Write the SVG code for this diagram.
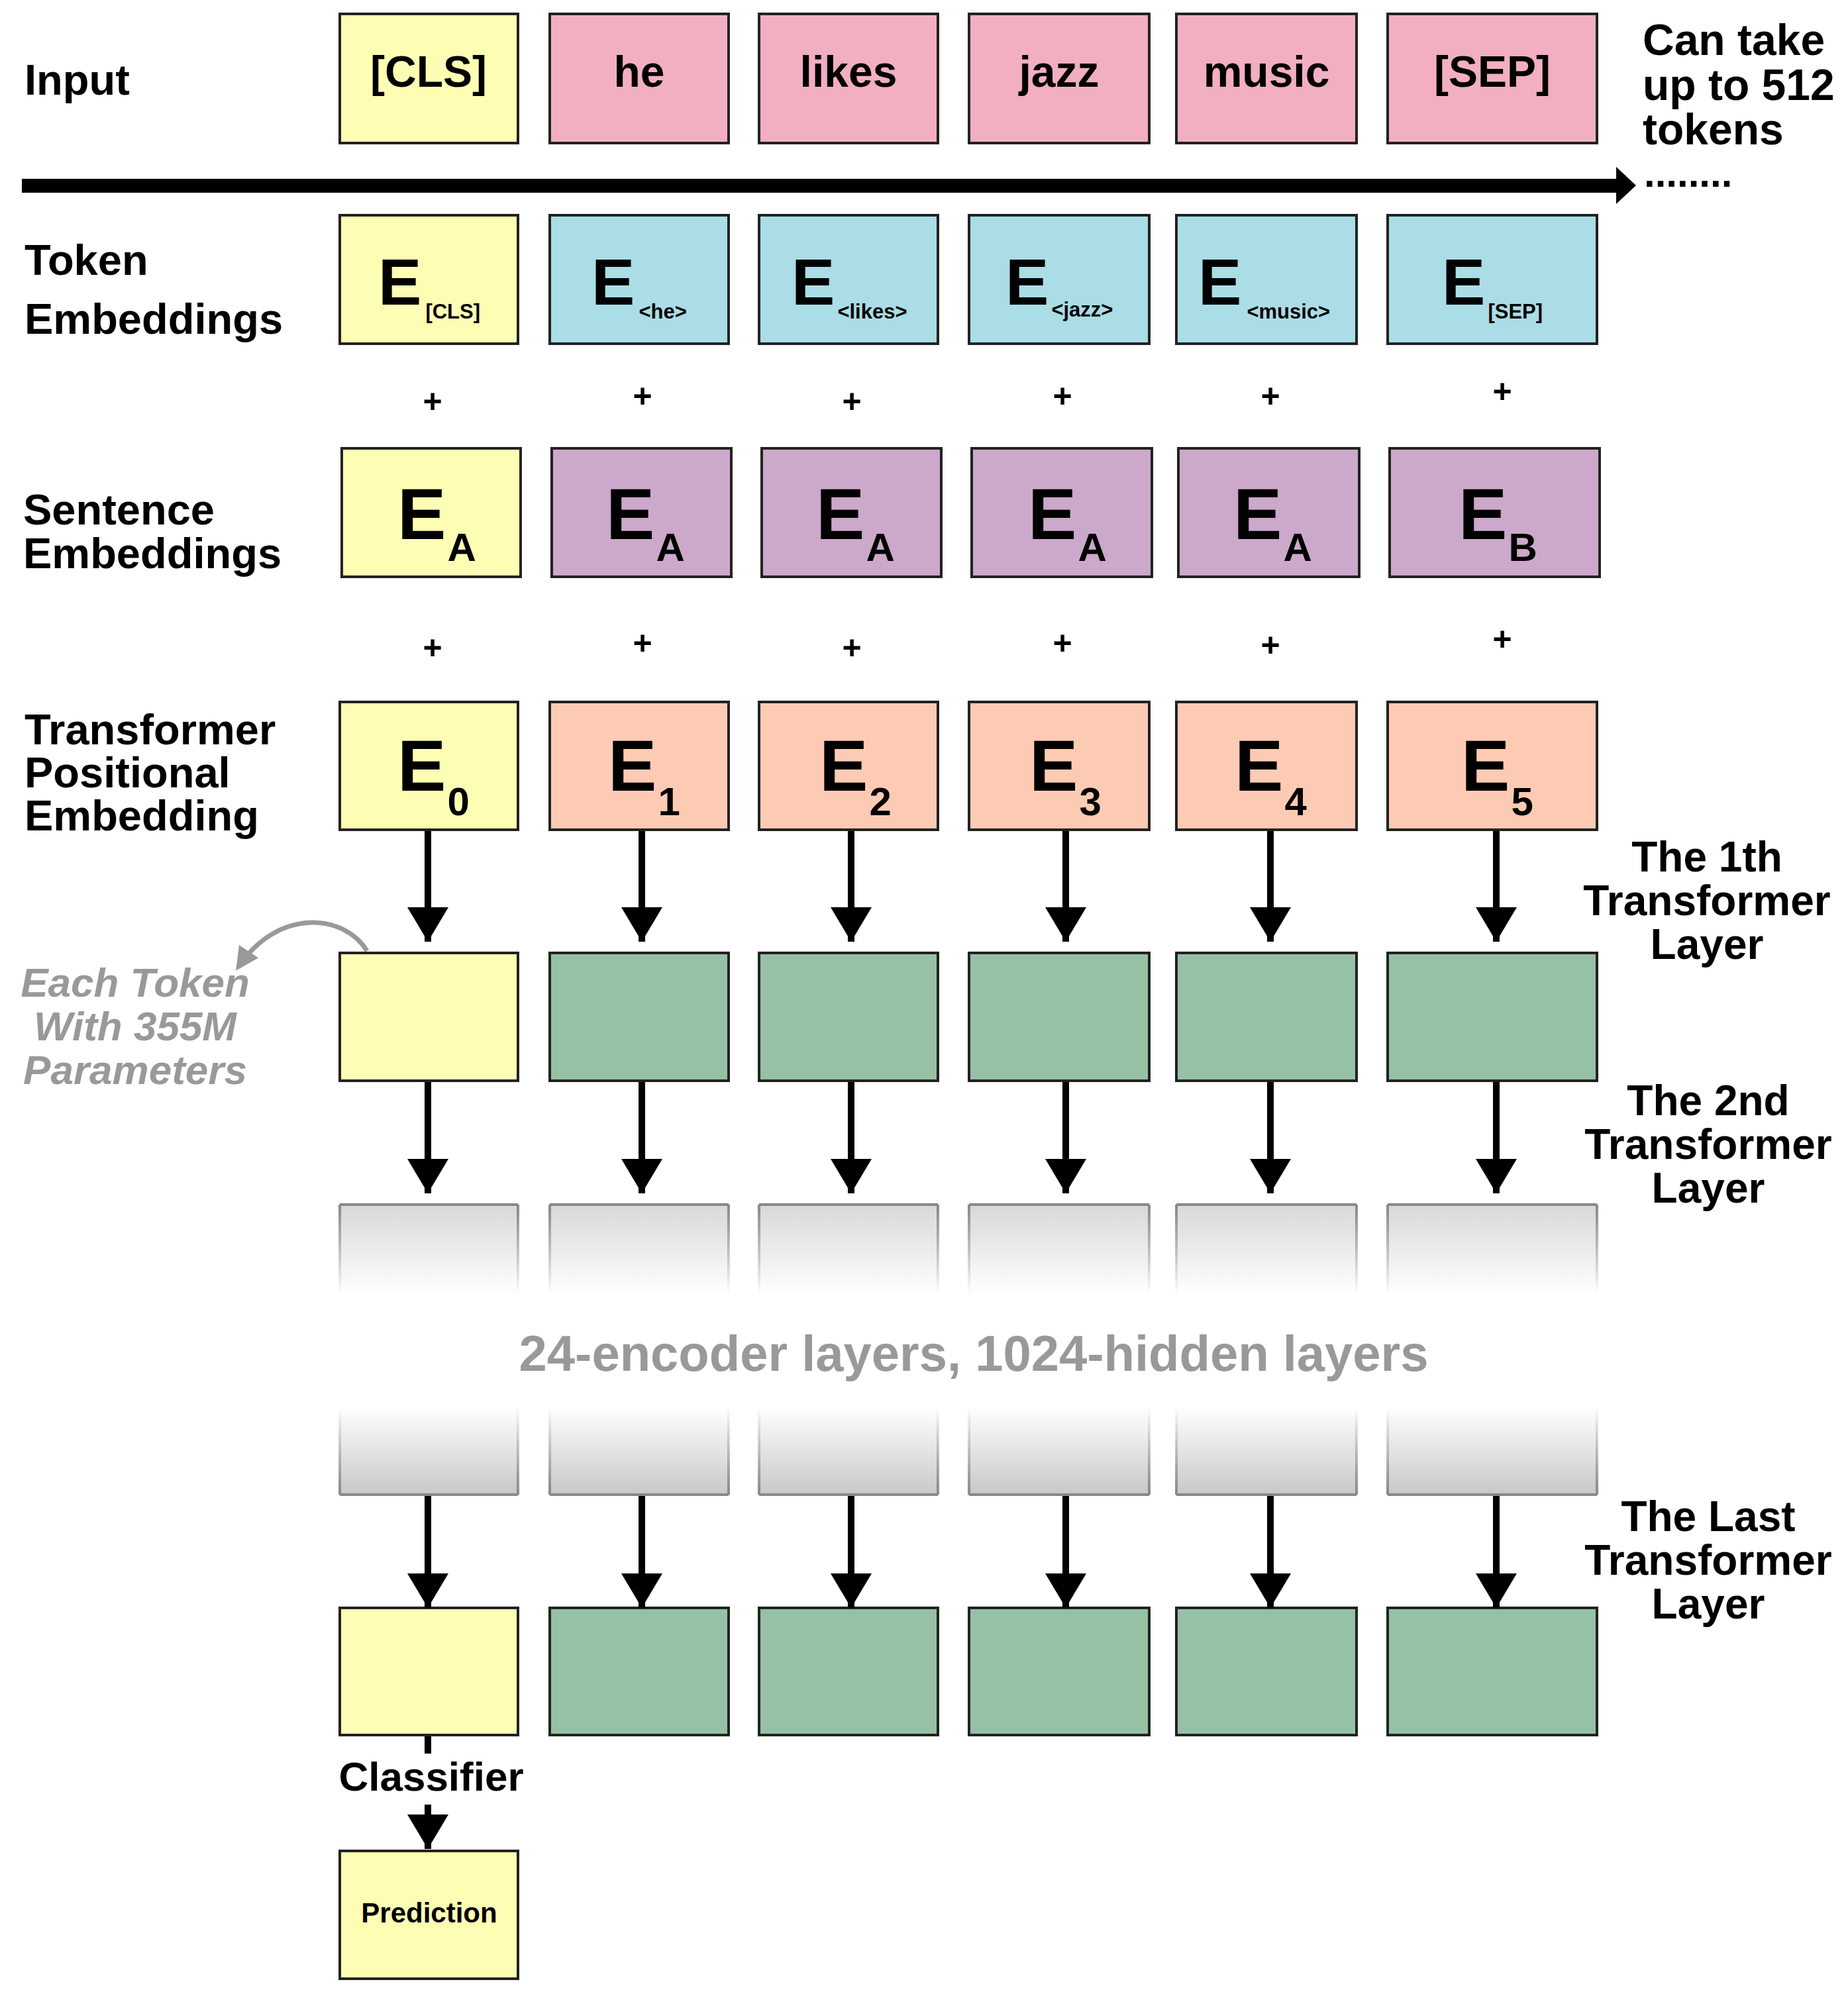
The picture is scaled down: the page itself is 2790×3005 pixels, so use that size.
<svg xmlns="http://www.w3.org/2000/svg" width="2790" height="3005" viewBox="0 0 2790 3005">
<style>
text{font-family:"Liberation Sans",Arial,sans-serif;font-weight:bold;fill:#000}
.b{stroke:#222;stroke-width:4}
.y{fill:#FDFDB4}.p{fill:#F2AFC1}.c{fill:#AADDE6}.v{fill:#CCA8CA}.o{fill:#FDCBB3}.g{fill:#96C1A5}
.lab{font-size:65px}
.tok{font-size:66px;text-anchor:middle}
.E1{font-size:98px}.E2{font-size:110px}
.pl{font-size:50px;text-anchor:middle}
.r{font-size:64px;text-anchor:middle}
.gt{fill:#999;font-style:italic;font-size:62px;text-anchor:middle}
</style>
<defs>
<linearGradient id="gt" x1="0" y1="0" x2="0" y2="1"><stop offset="0" stop-color="#d8d8d8"/><stop offset="1" stop-color="#fff"/></linearGradient>
<linearGradient id="gb" x1="0" y1="0" x2="0" y2="1"><stop offset="0" stop-color="#fff"/><stop offset="1" stop-color="#c8c8c8"/></linearGradient>
<linearGradient id="st" x1="0" y1="0" x2="0" y2="1"><stop offset="0" stop-color="#888"/><stop offset="1" stop-color="#888" stop-opacity="0"/></linearGradient>
<linearGradient id="sb" x1="0" y1="0" x2="0" y2="1"><stop offset="0" stop-color="#888" stop-opacity="0"/><stop offset="1" stop-color="#888"/></linearGradient>
<marker id="ah" markerWidth="5.2" markerHeight="6.2" refX="5.2" refY="3.1" orient="auto" markerUnits="strokeWidth" viewBox="0 0 5.2 6.2"><path d="M0,0L5.2,3.1L0,6.2z" fill="#000"/></marker>
<marker id="ga" markerWidth="5" markerHeight="5" refX="4" refY="2.5" orient="auto" viewBox="0 0 5 5" markerUnits="strokeWidth"><path d="M0,0L5,2.5L0,5z" fill="#999"/></marker>
</defs>

<g id="labels">
<text class="lab" x="37" y="143">Input</text>
<text class="lab" x="37" y="415">Token</text>
<text class="lab" x="37" y="504">Embeddings</text>
<text class="lab" x="35" y="792">Sentence</text>
<text class="lab" x="35" y="858">Embeddings</text>
<text class="lab" x="37" y="1124">Transformer</text>
<text class="lab" x="37" y="1189">Positional</text>
<text class="lab" x="37" y="1254">Embedding</text>
<text style="font-size:66px" x="2480" y="83">Can take</text>
<text style="font-size:66px" x="2480" y="151">up to 512</text>
<text style="font-size:66px" x="2480" y="218">tokens</text>
<text style="font-size:60px" x="2482" y="282">........</text>
<text class="r" x="2577" y="1316">The 1th</text>
<text class="r" x="2577" y="1382">Transformer</text>
<text class="r" x="2577" y="1448">Layer</text>
<text class="r" x="2579" y="1684">The 2nd</text>
<text class="r" x="2579" y="1750">Transformer</text>
<text class="r" x="2579" y="1816">Layer</text>
<text class="r" x="2579" y="2312">The Last</text>
<text class="r" x="2579" y="2378">Transformer</text>
<text class="r" x="2579" y="2444">Layer</text>
<text class="gt" x="204" y="1505">Each Token</text>
<text class="gt" x="204" y="1571">With 355M</text>
<text class="gt" x="204" y="1637">Parameters</text>
<text style="font-size:76px;fill:#999;text-anchor:middle" x="1470" y="2070">24-encoder layers, 1024-hidden layers</text>
</g>

<g id="axis">
<rect x="33" y="270" width="2410" height="21" fill="#000"/>
<path d="M2440,252L2470,280L2440,308z" fill="#000"/>
</g>

<g id="input-row">
<g id="in0"><rect class="b y" x="513" y="21" width="269" height="195"/><text class="tok" x="647" y="131">[CLS]</text></g>
<g id="in1"><rect class="b p" x="830" y="21" width="270" height="195"/><text class="tok" x="965" y="131">he</text></g>
<g id="in2"><rect class="b p" x="1146" y="21" width="270" height="195"/><text class="tok" x="1281" y="131">likes</text></g>
<g id="in3"><rect class="b p" x="1463" y="21" width="272" height="195"/><text class="tok" x="1599" y="131">jazz</text></g>
<g id="in4"><rect class="b p" x="1776" y="21" width="272" height="195"/><text class="tok" x="1912" y="131">music</text></g>
<g id="in5"><rect class="b p" x="2095" y="21" width="316" height="195"/><text class="tok" x="2253" y="131">[SEP]</text></g>
</g>

<g id="token-row">
<g id="te0"><rect class="b y" x="513" y="325" width="269" height="194"/><text class="E1" x="571" y="460">E<tspan font-size="31" dy="21" dx="6">[CLS]</tspan></text></g>
<g id="te1"><rect class="b c" x="830" y="325" width="270" height="194"/><text class="E1" x="893" y="460">E<tspan font-size="31" dy="21" dx="6">&lt;he&gt;</tspan></text></g>
<g id="te2"><rect class="b c" x="1146" y="325" width="270" height="194"/><text class="E1" x="1195" y="460">E<tspan font-size="31" dy="21" dx="4">&lt;likes&gt;</tspan></text></g>
<g id="te3"><rect class="b c" x="1463" y="325" width="272" height="194"/><text class="E1" x="1518" y="460">E<tspan font-size="31" dy="18" dx="4">&lt;jazz&gt;</tspan></text></g>
<g id="te4"><rect class="b c" x="1776" y="325" width="272" height="194"/><text class="E1" x="1809" y="460">E<tspan font-size="31" dy="21" dx="8">&lt;music&gt;</tspan></text></g>
<g id="te5"><rect class="b c" x="2095" y="325" width="316" height="194"/><text class="E1" x="2177" y="460">E<tspan font-size="31" dy="21" dx="4">[SEP]</tspan></text></g>
</g>

<g id="plus">
<text class="pl" x="653" y="623">+</text><text class="pl" x="970" y="615">+</text><text class="pl" x="1286" y="623">+</text><text class="pl" x="1604" y="615">+</text><text class="pl" x="1918" y="615">+</text><text class="pl" x="2268" y="608">+</text>
<text class="pl" x="653" y="995">+</text><text class="pl" x="970" y="988">+</text><text class="pl" x="1286" y="995">+</text><text class="pl" x="1604" y="988">+</text><text class="pl" x="1918" y="991">+</text><text class="pl" x="2268" y="982">+</text>
</g>

<g id="sentence-row">
<g id="se0"><rect class="b y" x="516" y="677" width="270" height="194"/><text class="E2" x="600" y="814">E<tspan font-size="60" dy="33" dx="2">A</tspan></text></g>
<g id="se1"><rect class="b v" x="833" y="677" width="271" height="194"/><text class="E2" x="915" y="814">E<tspan font-size="60" dy="33" dx="2">A</tspan></text></g>
<g id="se2"><rect class="b v" x="1150" y="677" width="271" height="194"/><text class="E2" x="1232" y="814">E<tspan font-size="60" dy="33" dx="2">A</tspan></text></g>
<g id="se3"><rect class="b v" x="1467" y="677" width="272" height="194"/><text class="E2" x="1552" y="814">E<tspan font-size="60" dy="33" dx="2">A</tspan></text></g>
<g id="se4"><rect class="b v" x="1779" y="677" width="273" height="194"/><text class="E2" x="1862" y="814">E<tspan font-size="60" dy="33" dx="2">A</tspan></text></g>
<g id="se5"><rect class="b v" x="2098" y="677" width="317" height="194"/><text class="E2" x="2202" y="814">E<tspan font-size="60" dy="33" dx="2">B</tspan></text></g>
</g>

<g id="pos-row">
<g id="pe0"><rect class="b y" x="513" y="1060" width="269" height="193"/><text class="E2" x="600" y="1194">E<tspan font-size="60" dy="37" dx="2">0</tspan></text></g>
<g id="pe1"><rect class="b o" x="830" y="1060" width="270" height="193"/><text class="E2" x="918" y="1194">E<tspan font-size="60" dy="37" dx="2">1</tspan></text></g>
<g id="pe2"><rect class="b o" x="1146" y="1060" width="270" height="193"/><text class="E2" x="1237" y="1194">E<tspan font-size="60" dy="37" dx="2">2</tspan></text></g>
<g id="pe3"><rect class="b o" x="1463" y="1060" width="272" height="193"/><text class="E2" x="1554" y="1194">E<tspan font-size="60" dy="37" dx="2">3</tspan></text></g>
<g id="pe4"><rect class="b o" x="1776" y="1060" width="272" height="193"/><text class="E2" x="1864" y="1194">E<tspan font-size="60" dy="37" dx="2">4</tspan></text></g>
<g id="pe5"><rect class="b o" x="2095" y="1060" width="316" height="193"/><text class="E2" x="2206" y="1194">E<tspan font-size="60" dy="37" dx="2">5</tspan></text></g>
</g>

<g id="layer1">
<rect id="l1-0" class="b y" x="513" y="1439" width="269" height="193"/>
<rect id="l1-1" class="b g" x="830" y="1439" width="270" height="193"/>
<rect id="l1-2" class="b g" x="1146" y="1439" width="270" height="193"/>
<rect id="l1-3" class="b g" x="1463" y="1439" width="272" height="193"/>
<rect id="l1-4" class="b g" x="1776" y="1439" width="272" height="193"/>
<rect id="l1-5" class="b g" x="2095" y="1439" width="316" height="193"/>
</g>

<g id="faded">
<g fill="url(#gt)" stroke="none">
<rect x="513" y="1819" width="269" height="135"/><rect x="830" y="1819" width="270" height="135"/><rect x="1146" y="1819" width="270" height="135"/><rect x="1463" y="1819" width="272" height="135"/><rect x="1776" y="1819" width="272" height="135"/><rect x="2095" y="1819" width="316" height="135"/>
</g>
<g fill="url(#gb)" stroke="none">
<rect x="513" y="2125" width="269" height="132"/><rect x="830" y="2125" width="270" height="132"/><rect x="1146" y="2125" width="270" height="132"/><rect x="1463" y="2125" width="272" height="132"/><rect x="1776" y="2125" width="272" height="132"/><rect x="2095" y="2125" width="316" height="132"/>
</g>
<g stroke="#888" stroke-width="4">
<path d="M513,1819H782M830,1819H1100M1146,1819H1416M1463,1819H1735M1776,1819H2048M2095,1819H2411"/>
<path d="M513,2257H782M830,2257H1100M1146,2257H1416M1463,2257H1735M1776,2257H2048M2095,2257H2411"/>
</g>
<path stroke="url(#st)" stroke-width="4" fill="none" d="M513,1819V1954M782,1819V1954M830,1819V1954M1100,1819V1954M1146,1819V1954M1416,1819V1954M1463,1819V1954M1735,1819V1954M1776,1819V1954M2048,1819V1954M2095,1819V1954M2411,1819V1954"/>
<path stroke="url(#sb)" stroke-width="4" fill="none" d="M513,2125V2257M782,2125V2257M830,2125V2257M1100,2125V2257M1146,2125V2257M1416,2125V2257M1463,2125V2257M1735,2125V2257M1776,2125V2257M2048,2125V2257M2095,2125V2257M2411,2125V2257"/>
</g>

<g id="last-layer">
<rect id="ll-0" class="b y" x="513" y="2428" width="269" height="192"/>
<rect id="ll-1" class="b g" x="830" y="2428" width="270" height="192"/>
<rect id="ll-2" class="b g" x="1146" y="2428" width="270" height="192"/>
<rect id="ll-3" class="b g" x="1463" y="2428" width="272" height="192"/>
<rect id="ll-4" class="b g" x="1776" y="2428" width="272" height="192"/>
<rect id="ll-5" class="b g" x="2095" y="2428" width="316" height="192"/>
</g>

<g id="prediction"><rect class="b y" x="513" y="2795" width="269" height="193"/><text style="font-size:42px;text-anchor:middle" x="648" y="2903">Prediction</text></g>

<g id="connectors" stroke="#000" stroke-width="10" fill="none" marker-end="url(#ah)">
<path d="M646,1255V1422"/><path d="M969,1255V1422"/><path d="M1285,1255V1422"/><path d="M1609,1255V1422"/><path d="M1918,1255V1422"/><path d="M2259,1255V1422"/>
<path d="M646,1634V1802"/><path d="M969,1634V1802"/><path d="M1285,1634V1802"/><path d="M1609,1634V1802"/><path d="M1918,1634V1802"/><path d="M2259,1634V1802"/>
<path d="M646,2259V2428"/><path d="M969,2259V2428"/><path d="M1285,2259V2428"/><path d="M1609,2259V2428"/><path d="M1918,2259V2428"/><path d="M2259,2259V2428"/>
<path d="M646,2725V2792"/>
<path d="M646,2622V2648" marker-end="none"/>
<path d="M554,1436C520,1380 420,1370 360,1460" stroke="#999" stroke-width="7" marker-end="url(#ga)"/>
</g>
<text style="font-size:62px;text-anchor:middle" x="651" y="2704">Classifier</text>
</svg>
